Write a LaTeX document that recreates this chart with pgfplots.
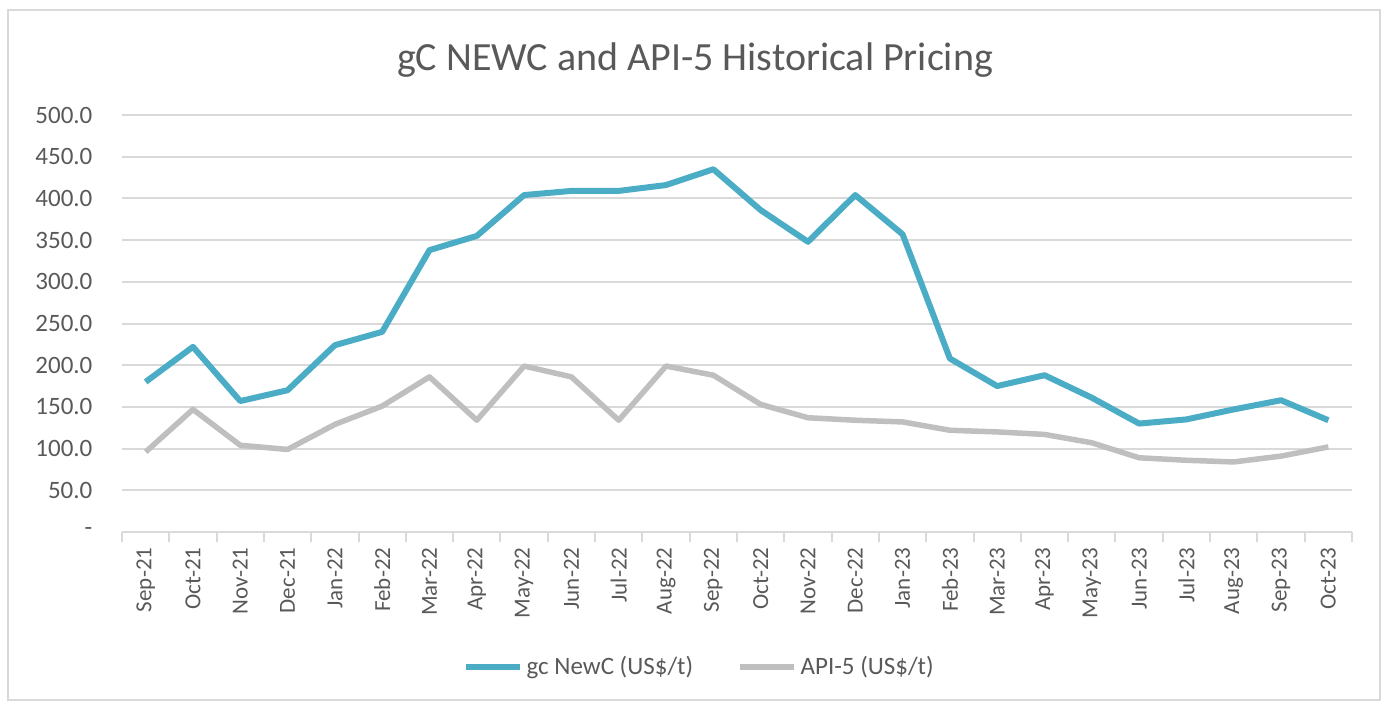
\documentclass[border=0pt]{standalone}
\usepackage{fontspec}
\setmainfont{Carlito}
\usepackage{pgfplots}
\pgfplotsset{compat=1.18}
\definecolor{teal1}{HTML}{4BACC6}
\definecolor{grey1}{HTML}{BFBFBF}
\definecolor{txt}{HTML}{595959}
\definecolor{gridc}{HTML}{D9D9D9}
\begin{document}
\begin{tikzpicture}
\useasboundingbox (0,0) rectangle (693pt,351pt);
\draw[gridc, line width=0.75pt] (4pt,1pt) rectangle (690pt,346pt);
\node[text=txt, font=\fontsize{20}{24}\selectfont] at (347.5pt,321pt) {gC NEWC and API-5 Historical Pricing};
\begin{axis}[
  at={(61pt,85pt)}, anchor=south west,
  scale only axis, width=615pt, height=208.5pt,
  xmin=-0.5, xmax=25.5, ymin=0, ymax=500,
  separate axis lines,
  axis x line*=bottom, axis y line*=left,
  y axis line style={draw=none},
  x axis line style={gridc, line width=1pt},
  ymajorgrids, grid style={gridc, line width=1pt},
  ytick={0,50,...,500},
  yticklabels={-\hspace{3pt},50.0,100.0,150.0,200.0,250.0,300.0,350.0,400.0,450.0,500.0},
  ytick style={draw=none},
  yticklabel style={font=\fontsize{12.5}{14}\selectfont, text=txt, xshift=-7pt},
  xtick={0,...,25},
  xticklabels={Sep-21,Oct-21,Nov-21,Dec-21,Jan-22,Feb-22,Mar-22,Apr-22,May-22,Jun-22,Jul-22,Aug-22,Sep-22,Oct-22,Nov-22,Dec-22,Jan-23,Feb-23,Mar-23,Apr-23,May-23,Jun-23,Jul-23,Aug-23,Sep-23,Oct-23},
  major x tick style={draw=none},
  minor xtick={-0.5,0.5,...,25.5},
  minor x tick style={gridc, line width=1pt},
  minor tick length=5pt,
  tick align=outside,
  x tick label style={rotate=90, anchor=east, font=\fontsize{11.5}{14}\selectfont, text=txt},
  legend style={at={(0.47,-0.324)}, anchor=center, draw=none, fill=none, legend columns=2,
    font=\fontsize{12.5}{15}\selectfont, text=txt,
    /tikz/every even column/.append style={column sep=20pt}},
  legend image code/.code={\draw[#1, line cap=butt] (0pt,0pt) -- (27pt,0pt);},
]
\addplot[teal1, line width=3pt, line join=round] coordinates {
(0,180) (1,222) (2,157) (3,170) (4,224) (5,240) (6,338) (7,355) (8,404) (9,409)
(10,409) (11,416) (12,435) (13,386) (14,348) (15,404) (16,357) (17,208) (18,175) (19,188)
(20,161) (21,130) (22,135) (23,147) (24,158) (25,134)};
\addlegendentry{gc NewC (US\$/t)}
\addplot[grey1, line width=2.75pt, line join=round] coordinates {
(0,96) (1,147) (2,104) (3,99) (4,129) (5,151) (6,186) (7,134) (8,199) (9,186)
(10,134) (11,199) (12,188) (13,153) (14,137) (15,134) (16,132) (17,122) (18,120) (19,117)
(20,107) (21,89) (22,86) (23,84) (24,91) (25,102)};
\addlegendentry{API-5 (US\$/t)}
\end{axis}
\end{tikzpicture}
\end{document}
